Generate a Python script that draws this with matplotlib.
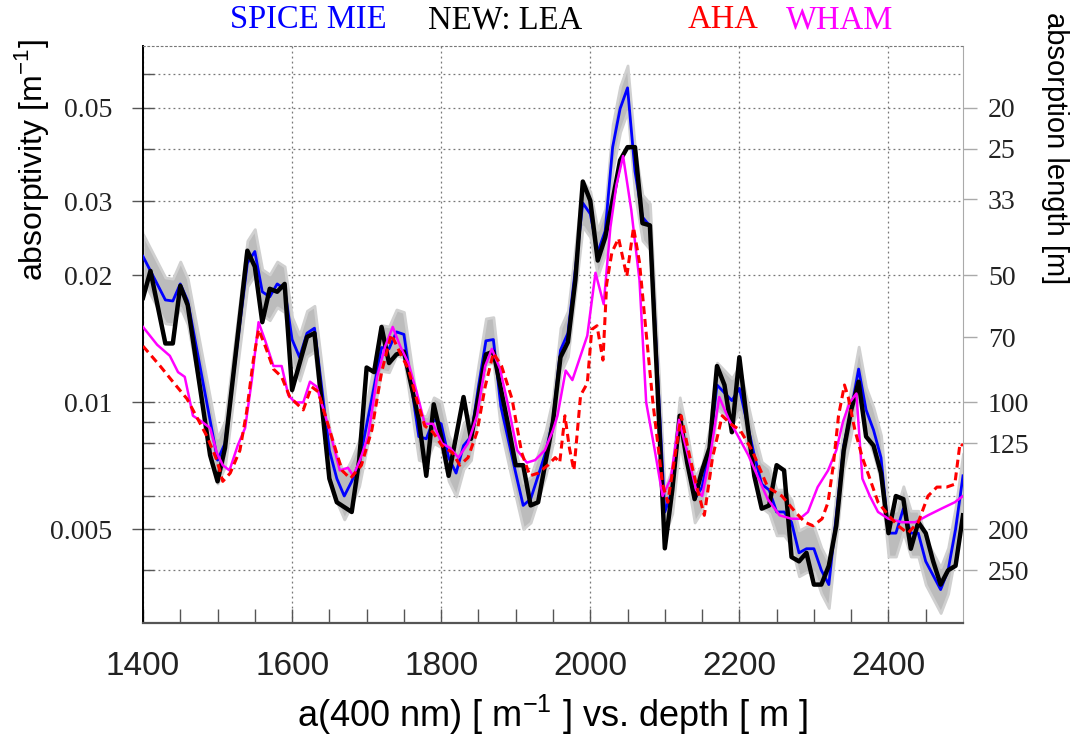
import matplotlib.pyplot as plt
from matplotlib.ticker import FixedLocator, NullFormatter

# depth [m] and absorptivity a(400nm) [1/m]
lea_depth = [1400, 1410, 1430, 1440, 1450, 1460, 1490, 1500, 1510, 1540, 1550, 1560, 1570, 1580, 1590,
             1600, 1620, 1630, 1650, 1660, 1680, 1690, 1700, 1710, 1720, 1730, 1740, 1750, 1770, 1780,
             1790, 1800, 1810, 1830, 1840, 1860, 1870, 1890, 1900, 1910, 1920, 1930, 1950, 1960, 1970,
             1980, 1990, 2000, 2010, 2020, 2030, 2040, 2050, 2060, 2070, 2080, 2090, 2100, 2110, 2120,
             2130, 2140, 2150, 2160, 2170, 2180, 2190, 2200, 2210, 2220, 2230, 2240, 2250, 2260, 2270,
             2280, 2290, 2300, 2310, 2320, 2330, 2340, 2350, 2360, 2370, 2380, 2390, 2400, 2410, 2420,
             2430, 2440, 2450, 2460, 2470, 2480, 2490, 2500]
lea_abs = [0.0177, 0.0205, 0.0138, 0.0138, 0.0189, 0.0170, 0.0075, 0.0065, 0.0078, 0.0229, 0.0210, 0.0155,
           0.0186, 0.0183, 0.0191, 0.0107, 0.0143, 0.0146, 0.0066, 0.0058, 0.0055, 0.0073, 0.0121, 0.0118,
           0.0151, 0.0124, 0.0130, 0.0132, 0.0091, 0.0067, 0.0099, 0.0083, 0.0067, 0.0103, 0.0082, 0.0130,
           0.0132, 0.0088, 0.0071, 0.0071, 0.0057, 0.0058, 0.0090, 0.0128, 0.0139, 0.0195, 0.0334, 0.0301,
           0.0217, 0.0246, 0.0302, 0.0375, 0.0403, 0.0403, 0.0266, 0.0263, 0.0110, 0.00451, 0.0062, 0.0093,
           0.0072, 0.0059, 0.0069, 0.0078, 0.0122, 0.0110, 0.0085, 0.0128, 0.0091, 0.0067, 0.0056, 0.0057,
           0.0071, 0.0069, 0.0043, 0.0042, 0.0044, 0.0037, 0.0037, 0.0041, 0.0051, 0.0077, 0.0096, 0.0112,
           0.0083, 0.0079, 0.0068, 0.0049, 0.0060, 0.0059, 0.0045, 0.0052, 0.0049, 0.0042, 0.0037, 0.0040,
           0.0041, 0.0054]

mie_depth = [1400, 1430, 1440, 1450, 1460, 1500, 1510, 1540, 1550, 1560, 1570, 1580, 1590, 1600, 1610,
             1620, 1630, 1650, 1660, 1670, 1680, 1690, 1705, 1720, 1730, 1740, 1750, 1770, 1780, 1790,
             1800, 1810, 1820, 1830, 1840, 1850, 1860, 1870, 1880, 1900, 1910, 1920, 1940, 1950, 1960,
             1970, 1980, 1990, 2000, 2010, 2020, 2030, 2040, 2050, 2060, 2070, 2080, 2100, 2110, 2120,
             2130, 2140, 2150, 2160, 2170, 2190, 2200, 2220, 2230, 2240, 2250, 2260, 2270, 2280, 2290,
             2300, 2310, 2320, 2330, 2340, 2350, 2360, 2370, 2380, 2390, 2400, 2410, 2420, 2430, 2440,
             2450, 2470, 2480, 2490, 2500]
mie_abs = [0.0222, 0.0175, 0.0174, 0.0191, 0.0174, 0.0073, 0.0080, 0.0214, 0.0228, 0.0183, 0.0178, 0.0191,
           0.0186, 0.0141, 0.0128, 0.0146, 0.0150, 0.0077, 0.0066, 0.0060, 0.0065, 0.0072, 0.0098, 0.0135,
           0.0134, 0.0147, 0.0145, 0.0083, 0.0082, 0.0091, 0.0089, 0.0074, 0.0068, 0.0079, 0.0083, 0.0109,
           0.0140, 0.0141, 0.0098, 0.0068, 0.0057, 0.0059, 0.0076, 0.0091, 0.0133, 0.0146, 0.0207, 0.0297,
           0.0280, 0.0227, 0.0255, 0.0403, 0.0497, 0.0557, 0.0353, 0.0275, 0.0262, 0.0055, 0.0062, 0.0091,
           0.0075, 0.0059, 0.0063, 0.0077, 0.0110, 0.0101, 0.0108, 0.0075, 0.0064, 0.0062, 0.0055, 0.0055,
           0.0052, 0.0044, 0.0045, 0.0045, 0.0040, 0.0037, 0.0054, 0.0079, 0.0096, 0.0120, 0.0096, 0.0086,
           0.0074, 0.0049, 0.0049, 0.0056, 0.0049, 0.0049, 0.0042, 0.0036, 0.0040, 0.0050, 0.0067]

aha_depth = [1400, 1423, 1440, 1459, 1474, 1486, 1499, 1507, 1517, 1530, 1539, 1548, 1555, 1564, 1575,
             1586, 1597, 1615, 1626, 1635, 1653, 1667, 1678, 1693, 1707, 1720, 1733, 1745, 1756, 1767,
             1778, 1789, 1801, 1815, 1825, 1836, 1848, 1859, 1870, 1881, 1895, 1908, 1919, 1930, 1943,
             1953, 1959, 1966, 1972, 1978, 1987, 1996, 2002, 2009, 2017, 2022, 2029, 2038, 2049, 2058,
             2066, 2075, 2084, 2097, 2104, 2122, 2133, 2144, 2153, 2164, 2177, 2188, 2201, 2217, 2238,
             2257, 2275, 2288, 2299, 2311, 2319, 2326, 2333, 2341, 2346, 2355, 2365, 2375, 2386, 2400,
             2413, 2426, 2440, 2453, 2465, 2478, 2489, 2496, 2500]
aha_abs = [0.0136, 0.0122, 0.0112, 0.0102, 0.0091, 0.0083, 0.0073, 0.0065, 0.0068, 0.0077, 0.0095, 0.0126,
           0.0149, 0.0136, 0.0120, 0.0115, 0.0103, 0.0096, 0.0109, 0.0106, 0.0083, 0.0069, 0.0066, 0.0071,
           0.0086, 0.0118, 0.0145, 0.0131, 0.0120, 0.0102, 0.0088, 0.0085, 0.0079, 0.0076, 0.0071, 0.0074,
           0.0085, 0.0109, 0.0131, 0.0122, 0.0102, 0.0076, 0.0067, 0.0068, 0.0071, 0.0074, 0.0072, 0.0093,
           0.0078, 0.0069, 0.0104, 0.0111, 0.0149, 0.0152, 0.0126, 0.0191, 0.0227, 0.0245, 0.0199, 0.0260,
           0.0215, 0.0146, 0.0100, 0.0064, 0.0058, 0.0093, 0.0075, 0.0062, 0.0054, 0.0074, 0.0093, 0.0089,
           0.0086, 0.0077, 0.0063, 0.0060, 0.0055, 0.0052, 0.0051, 0.0053, 0.0058, 0.0071, 0.0093, 0.0110,
           0.0103, 0.0086, 0.0074, 0.0066, 0.0058, 0.0054, 0.0051, 0.0049, 0.0052, 0.0060, 0.0063, 0.0063,
           0.0064, 0.0080, 0.0079]

wham_depth = [1400, 1419, 1436, 1447, 1456, 1467, 1479, 1490, 1499, 1507, 1516, 1527, 1537, 1546, 1555,
              1564, 1575, 1586, 1595, 1604, 1615, 1624, 1633, 1651, 1664, 1675, 1682, 1691, 1702, 1714,
              1725, 1735, 1745, 1756, 1767, 1778, 1789, 1801, 1812, 1823, 1836, 1848, 1859, 1868, 1879,
              1890, 1902, 1915, 1926, 1939, 1950, 1956, 1967, 1976, 1996, 2007, 2018, 2027, 2035, 2044,
              2055, 2066, 2075, 2086, 2097, 2108, 2119, 2131, 2142, 2150, 2161, 2173, 2186, 2197, 2212,
              2221, 2238, 2254, 2270, 2281, 2292, 2305, 2319, 2330, 2339, 2348, 2357, 2365, 2375, 2386,
              2400, 2418, 2436, 2453, 2471, 2489, 2500]
wham_abs = [0.0151, 0.0137, 0.0129, 0.0118, 0.0115, 0.0093, 0.0090, 0.0087, 0.0076, 0.0071, 0.0069, 0.0079,
            0.0087, 0.0113, 0.0155, 0.0140, 0.0122, 0.0122, 0.0104, 0.0100, 0.0100, 0.0112, 0.0109, 0.0085,
            0.0069, 0.0070, 0.0067, 0.0073, 0.0083, 0.0115, 0.0136, 0.0151, 0.0136, 0.0124, 0.0106, 0.0089,
            0.0089, 0.0080, 0.0078, 0.0074, 0.0080, 0.0093, 0.0122, 0.0134, 0.0120, 0.0098, 0.0077, 0.0072,
            0.0073, 0.0077, 0.0086, 0.0093, 0.0119, 0.0113, 0.0144, 0.0203, 0.0171, 0.0260, 0.0327, 0.0384,
            0.0286, 0.0195, 0.0100, 0.0078, 0.0060, 0.0066, 0.0091, 0.0075, 0.0062, 0.0060, 0.0075, 0.0103,
            0.0091, 0.0084, 0.0075, 0.0069, 0.0059, 0.0054, 0.0053, 0.0053, 0.0055, 0.0063, 0.0069, 0.0077,
            0.0090, 0.0100, 0.0105, 0.0066, 0.0060, 0.0055, 0.0053, 0.0052, 0.0052, 0.0054, 0.0056, 0.0058,
            0.0060]

left_ticks = [0.005, 0.01, 0.02, 0.03, 0.05]
left_minor = [0.004, 0.006, 0.007, 0.008, 0.009, 0.04, 0.06]
abs_lengths = [20, 25, 33, 50, 70, 100, 125, 200, 250]

SERIF = ['Liberation Serif', 'DejaVu Serif']
NARROW = ['Liberation Sans Narrow', 'Liberation Sans', 'DejaVu Sans']
plt.rcParams['font.family'] = ['Liberation Sans', 'DejaVu Sans']
plt.rcParams['mathtext.fontset'] = 'custom'
plt.rcParams['mathtext.rm'] = 'Liberation Sans'

fig = plt.figure(figsize=(10.82, 7.37), dpi=100)
ax = fig.add_axes([143 / 1082, 1 - 623 / 737, 820 / 1082, 577 / 737])

ax.set_yscale('log')
ax.set_xlim(1400, 2500)
ax.set_ylim(0.003, 0.07)

# uncertainty band around the Mie fit
band_lo = [v * 0.88 for v in mie_abs]
band_hi = [v * 1.13 for v in mie_abs]
ax.fill_between(mie_depth, band_lo, band_hi, color='#bcbcbc', lw=2, edgecolor='#d0d0d0', zorder=2)
ax.plot(mie_depth, mie_abs, color='#0000ff', lw=2.0, zorder=3)
ax.plot(lea_depth, lea_abs, color='black', lw=3.2, zorder=4)
ax.plot(wham_depth, wham_abs, color='#ff00ff', lw=1.8, zorder=5)
ax.plot(aha_depth, aha_abs, color='#ff0000', lw=2.2, ls=(0, (2.6, 1.6)), zorder=6)

# grid
ax.yaxis.set_major_locator(FixedLocator(left_ticks))
ax.yaxis.set_minor_locator(FixedLocator(left_minor))
ax.set_yticklabels(['0.005', '0.01', '0.02', '0.03', '0.05'], family=SERIF, fontsize=20, color='#222222')
ax.yaxis.set_minor_formatter(NullFormatter())
ax.set_xticks([1400, 1600, 1800, 2000, 2200, 2400])
ax.set_xticks(range(1450, 2500, 50), minor=True)
ax.set_xticklabels(['1400', '1600', '1800', '2000', '2200', '2400'], family=NARROW, fontsize=24,
                   color='#222222')
ax.grid(True, which='both', axis='y', ls=(0, (1.5, 2.5)), color='#777777', lw=0.9, zorder=0)
ax.grid(True, which='major', axis='x', ls=(0, (1.5, 2.5)), color='#777777', lw=0.9, zorder=0)

ax.tick_params(axis='y', which='major', direction='inout', length=16, width=1, color='#555555', pad=14)
ax.tick_params(axis='y', which='minor', direction='in', length=8, width=1, color='#555555')
ax.tick_params(axis='x', which='both', direction='in', length=10, width=1, color='#555555', pad=20)

ax.spines['left'].set_color('black')
ax.spines['left'].set_linewidth(1.4)
ax.spines['bottom'].set_color('#555555')
ax.spines['bottom'].set_linewidth(1.6)
ax.spines['right'].set_color('#aaaaaa')
ax.spines['top'].set_color('#777777')
ax.spines['top'].set_linestyle((0, (1.5, 2.5)))

# right axis: absorption length
ax2 = ax.twinx()
ax2.set_yscale('log')
ax2.set_ylim(ax.get_ylim())
ax2.yaxis.set_major_locator(FixedLocator([1.0 / L for L in abs_lengths]))
ax2.yaxis.set_minor_locator(FixedLocator([]))
ax2.set_yticklabels([str(L) for L in abs_lengths], family=SERIF, fontsize=20, color='#222222')
ax2.tick_params(axis='y', which='major', direction='out', length=10, width=1, color='#aaaaaa', pad=8)
for s in ax2.spines.values():
    s.set_visible(False)

# axis titles sit near the top of the figure, as in the original
fig.text(32 / 1082, 1 - 160 / 737, r'absorptivity [m$^{\mathregular{-1}}$]', fontsize=23,
         rotation=90, ha='center', va='center')
fig.text(1055 / 1082, 1 - 148 / 737, 'absorption length [m]', fontsize=21,
         rotation=270, ha='center', va='center')
ax.set_xlabel(r'a(400 nm) [ m$^{\mathregular{-1}}$ ] vs. depth [ m ]', family=NARROW, fontsize=26,
              labelpad=8)

# colour-coded legend on top
fig.text(230 / 1082, 1 - 20 / 737, 'SPICE MIE', color='#0000ff', family=SERIF, fontsize=23.5, va='center')
fig.text(428 / 1082, 1 - 20 / 737, 'NEW: LEA', color='black', family=SERIF, fontsize=23.5, va='center')
fig.text(688 / 1082, 1 - 20 / 737, 'AHA', color='#ff0000', family=SERIF, fontsize=23.5, va='center')
fig.text(786 / 1082, 1 - 20 / 737, 'WHAM', color='#ff00ff', family=SERIF, fontsize=23.5, va='center')

fig.savefig('out.png', dpi=100)
